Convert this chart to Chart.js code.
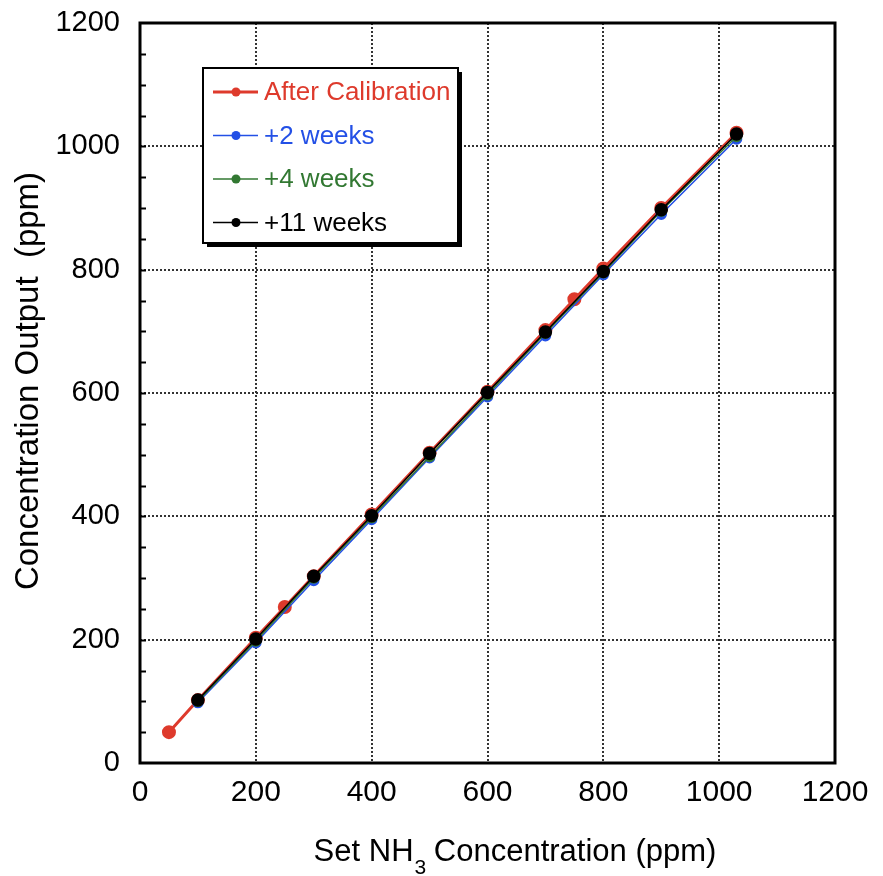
<!DOCTYPE html>
<html>
<head>
<meta charset="utf-8">
<script src="https://cdn.jsdelivr.net/npm/chart.js@4.4.0/dist/chart.umd.min.js"></script>
<style>
  html, body { margin: 0; padding: 0; background: #fff; }
  #wrap { width: 883px; height: 876px; }
</style>
</head>
<body>
<div id="wrap"><canvas id="grafico" width="883" height="876"></canvas></div>
<script>
// Dados
let setCalib = [50, 100, 200, 250, 300, 400, 500, 600, 700, 750, 800, 900, 1030];
let outCalib = [50, 102, 203, 253, 303, 403, 503, 602, 702, 752, 802, 900, 1022];

let setSemanas = [100, 200, 300, 400, 500, 600, 700, 800, 900, 1030];
let out2sem = [98, 195, 296, 395, 495, 594, 693, 792, 890, 1012];
let out4sem = [100, 198, 300, 398, 497, 597, 697, 795, 895, 1016];
let out11sem = [102, 201, 303, 401, 502, 601, 699, 797, 897, 1020];

let nomes = ["After Calibration", "+2 weeks", "+4 weeks", "+11 weeks"];
let cores = ["rgb(222, 58, 44)", "rgb(35, 80, 230)", "rgb(50, 120, 50)", "rgb(0, 0, 0)"];

let ticksX = [0, 200, 400, 600, 800, 1000, 1200];
let ticksY = [0, 200, 400, 600, 800, 1000, 1200];

let fonte = "'Liberation Sans', Arial, Helvetica, sans-serif";

function pontos(xs, ys) {
  return xs.map(function (x, i) { return { x: x, y: ys[i] }; });
}

// moldura, marcas menores, legenda e titulos dos eixos
let extras = {
  id: "extras",
  afterDraw: function (chart) {
    let ctx = chart.ctx;
    let a = chart.chartArea;
    let sy = chart.scales.y;

    ctx.save();
    // marcas menores no eixo y (a cada 50)
    ctx.strokeStyle = "#000";
    ctx.lineWidth = 2;
    for (let v = 50; v < 1200; v += 50) {
      let py = Math.round(sy.getPixelForValue(v)) + 0.5;
      ctx.beginPath();
      ctx.moveTo(a.left, py);
      ctx.lineTo(a.left + 6, py);
      ctx.stroke();
    }
    // moldura
    ctx.lineWidth = 3;
    ctx.strokeRect(a.left, a.top, a.right - a.left, a.bottom - a.top);

    // legenda
    let lx = 203, ly = 68, lw = 255, lh = 175;
    ctx.fillStyle = "#000";
    ctx.fillRect(lx + 4, ly + 4, lw, lh);
    ctx.fillStyle = "#fff";
    ctx.fillRect(lx, ly, lw, lh);
    ctx.lineWidth = 2;
    ctx.strokeStyle = "#000";
    ctx.strokeRect(lx, ly, lw, lh);

    ctx.font = "26px " + fonte;
    ctx.textBaseline = "middle";
    ctx.textAlign = "left";
    chart.data.datasets.forEach(function (ds, i) {
      let yy = 92 + i * 43.5;
      ctx.strokeStyle = ds.borderColor;
      ctx.lineWidth = i === 0 ? 3 : 1.5;
      ctx.beginPath();
      ctx.moveTo(213, yy);
      ctx.lineTo(258, yy);
      ctx.stroke();
      ctx.fillStyle = ds.borderColor;
      ctx.beginPath();
      ctx.arc(236, yy, 4.5, 0, Math.PI * 2);
      ctx.fill();
      ctx.fillText(ds.label, 264, yy + 1);
    });

    // titulo eixo x com subscrito
    ctx.fillStyle = "#000";
    ctx.textBaseline = "alphabetic";
    let f1 = "31px " + fonte;
    let f2 = "21px " + fonte;
    let p1 = "Set NH", p2 = "3", p3 = " Concentration (ppm)";
    ctx.font = f1;
    let w1 = ctx.measureText(p1).width;
    let w3 = ctx.measureText(p3).width;
    ctx.font = f2;
    let w2 = ctx.measureText(p2).width;
    let x0 = 515 - (w1 + w2 + w3) / 2;
    ctx.font = f1;
    ctx.fillText(p1, x0, 861);
    ctx.font = f2;
    ctx.fillText(p2, x0 + w1 + 1, 874);
    ctx.font = f1;
    ctx.fillText(p3, x0 + w1 + w2, 861);

    // titulo eixo y
    ctx.translate(29, 381);
    ctx.rotate(-Math.PI / 2);
    ctx.textAlign = "center";
    ctx.textBaseline = "middle";
    ctx.font = "33px " + fonte;
    ctx.fillText("Concentration Output  (ppm)", 0, 0);
    ctx.restore();
  }
};

let ctx = document.getElementById("grafico").getContext("2d");

new Chart(ctx, {
  type: "line",
  data: {
    datasets: [
      {
        label: nomes[0],
        data: pontos(setCalib, outCalib),
        borderColor: cores[0],
        backgroundColor: cores[0],
        borderWidth: 3,
        pointRadius: 5.5,
        order: 4
      },
      {
        label: nomes[1],
        data: pontos(setSemanas, out2sem),
        borderColor: cores[1],
        backgroundColor: cores[1],
        borderWidth: 1.5,
        pointRadius: 5,
        order: 3
      },
      {
        label: nomes[2],
        data: pontos(setSemanas, out4sem),
        borderColor: cores[2],
        backgroundColor: cores[2],
        borderWidth: 1.5,
        pointRadius: 5,
        order: 2
      },
      {
        label: nomes[3],
        data: pontos(setSemanas, out11sem),
        borderColor: cores[3],
        backgroundColor: cores[3],
        borderWidth: 1.5,
        pointRadius: 6,
        order: 1
      }
    ]
  },
  options: {
    responsive: false,
    animation: false,
    layout: { padding: { top: 23, right: 48, left: 0, bottom: 0 } },
    plugins: {
      legend: { display: false },
      tooltip: { enabled: false }
    },
    elements: {
      line: { tension: 0 },
      point: { borderWidth: 0 }
    },
    scales: {
      x: {
        type: "linear",
        min: 0,
        max: 1200,
        afterBuildTicks: function (scale) {
          scale.ticks = ticksX.map(function (v) { return { value: v }; });
        },
        afterFit: function (scale) {
          scale.height = 113;
          scale.paddingLeft = 0;
          scale.paddingRight = 0;
        },
        ticks: {
          color: "#000",
          padding: 12,
          maxRotation: 0,
          font: { family: fonte, size: 30 },
          callback: function (v) { return String(v); }
        },
        grid: {
          drawTicks: false,
          color: "#333",
          lineWidth: 2,
          borderDash: [2, 2]
        },
        border: { display: false, dash: [2, 2] }
      },
      y: {
        type: "linear",
        min: 0,
        max: 1200,
        afterBuildTicks: function (scale) {
          scale.ticks = ticksY.map(function (v) { return { value: v }; });
        },
        afterFit: function (scale) {
          scale.width = 140;
          scale.paddingTop = 0;
          scale.paddingBottom = 0;
        },
        ticks: {
          color: "#000",
          padding: 20,
          font: { family: fonte, size: 29 },
          callback: function (v) { return String(v); }
        },
        grid: {
          drawTicks: false,
          color: "#333",
          lineWidth: 2,
          borderDash: [2, 2]
        },
        border: { display: false, dash: [2, 2] }
      }
    }
  },
  plugins: [extras]
});
</script>
</body>
</html>
